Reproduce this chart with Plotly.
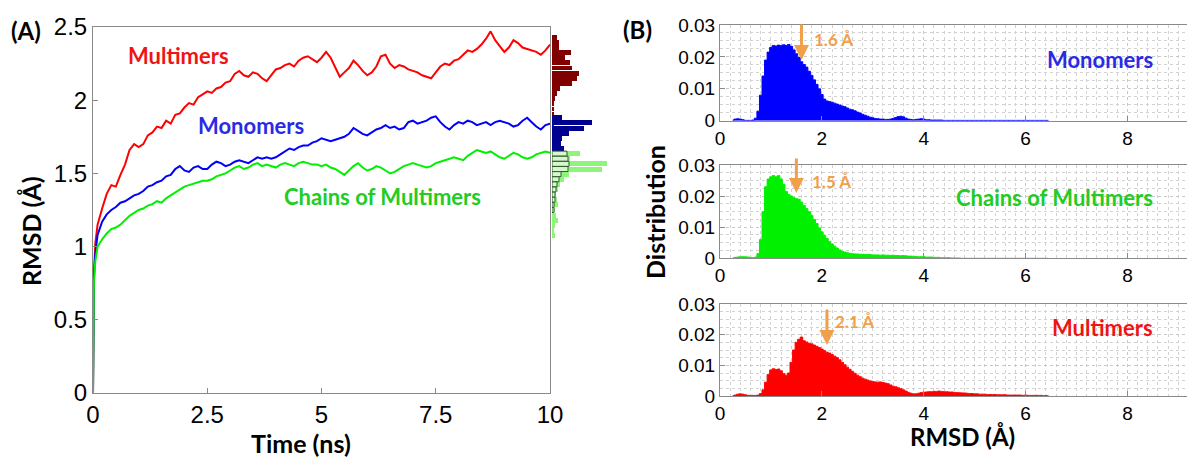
import plotly.graph_objects as go

W, H = 1187, 460

# ---------------- Panel A: RMSD time series ----------------
time_ns = [0.0, 0.02, 0.05] + [round(0.1 * i, 1) for i in range(1, 101)]

rmsd_multimers = [0.0, 0.80, 1.02,
    1.15, 1.26, 1.36, 1.42, 1.41, 1.49, 1.56, 1.66, 1.70, 1.68,
    1.70, 1.76, 1.78, 1.82, 1.81, 1.86, 1.84, 1.90, 1.91, 1.95,
    1.98, 1.97, 2.02, 2.04, 2.06, 2.05, 2.08, 2.09, 2.12, 2.13,
    2.18, 2.20, 2.17, 2.16, 2.19, 2.18, 2.15, 2.13, 2.17, 2.21,
    2.22, 2.24, 2.25, 2.23, 2.27, 2.29, 2.30, 2.28, 2.26, 2.29,
    2.33, 2.29, 2.22, 2.16, 2.19, 2.22, 2.27, 2.24, 2.20, 2.17,
    2.19, 2.23, 2.30, 2.31, 2.25, 2.22, 2.24, 2.23, 2.21, 2.20,
    2.19, 2.17, 2.16, 2.15, 2.19, 2.23, 2.25, 2.24, 2.27, 2.28,
    2.31, 2.34, 2.33, 2.35, 2.38, 2.42, 2.47, 2.41, 2.37, 2.33,
    2.36, 2.41, 2.39, 2.36, 2.35, 2.34, 2.33, 2.31, 2.34, 2.38]

rmsd_monomers = [0.0, 0.78, 0.95,
    1.08, 1.17, 1.22, 1.25, 1.27, 1.30, 1.31, 1.33, 1.35, 1.36,
    1.38, 1.41, 1.42, 1.44, 1.45, 1.48, 1.49, 1.53, 1.55, 1.52,
    1.51, 1.54, 1.55, 1.53, 1.53, 1.56, 1.58, 1.57, 1.55, 1.56,
    1.58, 1.59, 1.58, 1.57, 1.59, 1.61, 1.60, 1.61, 1.60, 1.61,
    1.63, 1.65, 1.67, 1.66, 1.68, 1.69, 1.69, 1.71, 1.72, 1.74,
    1.73, 1.72, 1.73, 1.74, 1.75, 1.77, 1.81, 1.79, 1.77, 1.76,
    1.78, 1.80, 1.81, 1.83, 1.81, 1.82, 1.80, 1.81, 1.85, 1.86,
    1.84, 1.85, 1.86, 1.88, 1.89, 1.85, 1.82, 1.80, 1.83, 1.85,
    1.84, 1.86, 1.85, 1.83, 1.84, 1.85, 1.83, 1.85, 1.86, 1.85,
    1.84, 1.82, 1.83, 1.86, 1.88, 1.85, 1.82, 1.80, 1.83, 1.84]

rmsd_chains = [0.0, 0.75, 0.90,
    1.00, 1.05, 1.09, 1.12, 1.13, 1.15, 1.18, 1.21, 1.23, 1.25,
    1.26, 1.28, 1.29, 1.31, 1.30, 1.33, 1.35, 1.37, 1.39, 1.41,
    1.42, 1.43, 1.44, 1.45, 1.45, 1.46, 1.48, 1.49, 1.50, 1.52,
    1.54, 1.55, 1.53, 1.54, 1.56, 1.57, 1.55, 1.56, 1.55, 1.54,
    1.56, 1.57, 1.56, 1.55, 1.57, 1.58, 1.57, 1.56, 1.56, 1.55,
    1.56, 1.54, 1.53, 1.51, 1.49, 1.52, 1.55, 1.57, 1.54, 1.52,
    1.53, 1.55, 1.54, 1.52, 1.50, 1.51, 1.53, 1.55, 1.56, 1.57,
    1.56, 1.55, 1.54, 1.55, 1.57, 1.58, 1.59, 1.60, 1.61, 1.60,
    1.59, 1.62, 1.64, 1.66, 1.65, 1.64, 1.65, 1.63, 1.61, 1.60,
    1.62, 1.64, 1.63, 1.61, 1.60, 1.61, 1.63, 1.64, 1.65, 1.64]

# side histograms (bin centre in Å, bar length in arbitrary counts)
hist_mult_y = [2.43, 2.395, 2.36, 2.325, 2.29, 2.255, 2.22, 2.185, 2.15, 2.115, 2.08,
               2.045, 2.01, 1.975, 1.94, 1.905, 1.87, 1.835, 1.80, 1.765, 1.73, 1.695]
hist_mult_n = [5, 7, 7, 19, 13, 18, 20, 27, 25, 20, 8, 5, 3, 2, 2, 1.5, 1.5, 2, 3, 2, 3, 2]

hist_mono_y = [1.88, 1.845, 1.81, 1.775, 1.74, 1.705, 1.67]
hist_mono_n = [10, 40, 32, 17, 10, 9, 12]

hist_chain_y = [1.635, 1.60, 1.565, 1.53, 1.495, 1.46, 1.425, 1.39, 1.355, 1.32,
                1.285, 1.25, 1.215, 1.18, 1.145, 1.11, 1.075]
hist_chain_n = [28, 18, 55, 50, 17, 12, 8, 6, 4, 5, 6, 3, 4, 6, 3, 2, 3]

hist_chain2_y = [1.635, 1.60, 1.565, 1.53, 1.495, 1.46, 1.425, 1.39, 1.355, 1.32, 1.285, 1.25]
hist_chain2_n = [15, 16, 17, 16, 9, 7, 5, 4, 3, 3, 2, 2]

# ---------------- Panel B: RMSD distributions ----------------
rmsd_bins = [round(0.25 + 0.05 * i, 2) for i in range(125)]   # 0.25 .. 6.45

dist_monomers = [
    0.0002, 0.0005, 0.0006, 0.0005, 0.0003, 0.0001, 0.0001, 0.0001, 0.0002, 0.0008,
    0.0030, 0.0080, 0.0140, 0.0190, 0.0215, 0.0230, 0.0236, 0.0234, 0.0237, 0.0235,
    0.0238, 0.0236, 0.0239, 0.0233, 0.0222, 0.0210, 0.0198, 0.0185, 0.0176, 0.0168,
    0.0155, 0.0142, 0.0128, 0.0114, 0.0100, 0.0082, 0.0068, 0.0062, 0.0060, 0.0058,
    0.0055, 0.0052, 0.0049, 0.0046, 0.0044, 0.0040, 0.0036, 0.0034, 0.0031, 0.0027,
    0.0024, 0.0020, 0.0017, 0.0014, 0.0011, 0.0009, 0.0007, 0.0006, 0.0005, 0.0005,
    0.0004, 0.0004, 0.0005, 0.0007, 0.0010, 0.0013, 0.0014, 0.0012, 0.0008, 0.0005,
    0.0004, 0.0003, 0.0004, 0.0005, 0.0006, 0.0005, 0.0003, 0.0003, 0.0002, 0.0002,
    0.0002, 0.0002, 0.0002, 0.0001, 0.0001, 0.0001, 0.0001, 0.0001, 0.0001, 0.0001,
    0.0001, 0.0001, 0.0001, 0.0001, 0.0001, 0.0001, 0.0001, 0.0001, 0.0001, 0.0001,
    0.0001, 0.0001, 0.0001, 0.0001, 0.0001, 0.0001, 0.0001, 0.0001, 0.0001, 0.0001,
    0.0001, 0.0001, 0.0001, 0.0001, 0.0001, 0.0001, 0.0001, 0.0001, 0.0001, 0.0001,
    0.0001, 0.0001, 0.0001, 0.0001, 0.0001]

dist_chains = [
    0.0001, 0.0003, 0.0004, 0.0005, 0.0005, 0.0005, 0.0004, 0.0003, 0.0002, 0.0004,
    0.0015, 0.0060, 0.0150, 0.0230, 0.0255, 0.0262, 0.0266, 0.0262, 0.0266, 0.0255,
    0.0238, 0.0215, 0.0205, 0.0200, 0.0195, 0.0192, 0.0190, 0.0180, 0.0170, 0.0160,
    0.0150, 0.0138, 0.0125, 0.0112, 0.0098, 0.0085, 0.0074, 0.0064, 0.0054, 0.0046,
    0.0039, 0.0033, 0.0027, 0.0023, 0.0020, 0.0018, 0.0016, 0.0015, 0.0014, 0.0014,
    0.0013, 0.0013, 0.0012, 0.0012, 0.0012, 0.0011, 0.0011, 0.0011, 0.0010, 0.0011,
    0.0010, 0.0010, 0.0009, 0.0010, 0.0009, 0.0009, 0.0008, 0.0009, 0.0008, 0.0007,
    0.0007, 0.0006, 0.0006, 0.0005, 0.0005, 0.0005, 0.0004, 0.0004, 0.0004, 0.0003,
    0.0003, 0.0003, 0.0002, 0.0002, 0.0002, 0.0002, 0.0001, 0.0001, 0.0001, 0.0001,
    0.0, 0.0, 0.0, 0.0, 0.0, 0.0, 0.0, 0.0, 0.0, 0.0,
    0.0, 0.0, 0.0, 0.0, 0.0, 0.0, 0.0, 0.0, 0.0, 0.0,
    0.0, 0.0, 0.0, 0.0, 0.0, 0.0, 0.0, 0.0, 0.0, 0.0,
    0.0, 0.0, 0.0, 0.0, 0.0]

dist_multimers = [
    0.0001, 0.0003, 0.0006, 0.0007, 0.0006, 0.0004, 0.0002, 0.0002, 0.0002, 0.0002,
    0.0003, 0.0008, 0.0020, 0.0045, 0.0070, 0.0085, 0.0089, 0.0086, 0.0088, 0.0082,
    0.0073, 0.0068, 0.0075, 0.0110, 0.0150, 0.0175, 0.0185, 0.0192, 0.0180, 0.0176,
    0.0172, 0.0170, 0.0166, 0.0162, 0.0158, 0.0153, 0.0148, 0.0143, 0.0140, 0.0135,
    0.0130, 0.0125, 0.0118, 0.0110, 0.0102, 0.0094, 0.0087, 0.0080, 0.0074, 0.0068,
    0.0063, 0.0058, 0.0055, 0.0052, 0.0049, 0.0047, 0.0046, 0.0045, 0.0046, 0.0044,
    0.0042, 0.0040, 0.0036, 0.0032, 0.0030, 0.0027, 0.0024, 0.0020, 0.0016, 0.0012,
    0.0009, 0.0007, 0.0007, 0.0009, 0.0011, 0.0012, 0.0013, 0.0014, 0.0014, 0.0015,
    0.0015, 0.0016, 0.0015, 0.0014, 0.0014, 0.0013, 0.0013, 0.0012, 0.0011, 0.0011,
    0.0010, 0.0010, 0.0009, 0.0008, 0.0008, 0.0007, 0.0007, 0.0006, 0.0006, 0.0006,
    0.0005, 0.0005, 0.0005, 0.0005, 0.0004, 0.0004, 0.0004, 0.0004, 0.0003, 0.0003,
    0.0003, 0.0003, 0.0003, 0.0003, 0.0002, 0.0003, 0.0002, 0.0002, 0.0002, 0.0002,
    0.0002, 0.0002, 0.0001, 0.0001, 0.0001]

peak_labels = ["1.6 Å", "1.5 Å", "2.1 Å"]
peak_x = [1.6, 1.5, 2.1]
peak_tip = [0.0190, 0.0210, 0.0166]
panel_names = ["Monomers", "Chains of Multimers", "Multimers"]

# ---------------- styling ----------------
RED, BLUE, GREEN = "#FF0000", "#0000FF", "#00F000"
TXT_RED, TXT_BLUE, TXT_GREEN = "#EE1515", "#2A2AE6", "#22CC22"
ORANGE = "#F0A04B"
TICKFONT = dict(family="Liberation Sans, Arial", size=24, color="black")
TICKFONT_B = dict(family="Liberation Sans, Arial", size=19, color="black")
BOLD = "Lato, Calibri, sans-serif"

fig = go.Figure()

# time series
for yv, col in [(rmsd_multimers, RED), (rmsd_monomers, BLUE), (rmsd_chains, GREEN)]:
    fig.add_trace(go.Scatter(x=time_ns, y=yv, mode="lines", line=dict(color=col, width=2),
                             xaxis="x", yaxis="y", showlegend=False))

# side histograms
fig.add_trace(go.Bar(x=hist_mult_n, y=hist_mult_y, orientation="h", width=0.034,
                     marker=dict(color="#800000", line=dict(width=0)), xaxis="x2", yaxis="y", showlegend=False))
fig.add_trace(go.Bar(x=hist_mono_n, y=hist_mono_y, orientation="h", width=0.034,
                     marker=dict(color="#000090", line=dict(width=0)), xaxis="x2", yaxis="y", showlegend=False))
fig.add_trace(go.Bar(x=hist_chain_n, y=hist_chain_y, orientation="h", width=0.034,
                     marker=dict(color="#8CF57A", line=dict(width=0)), xaxis="x2", yaxis="y", showlegend=False))
fig.add_trace(go.Bar(x=hist_chain2_n, y=hist_chain2_y, orientation="h", width=0.034,
                     marker=dict(color="#D9F7CF", line=dict(width=1, color="#2F5E2F")),
                     xaxis="x2", yaxis="y", showlegend=False))

# distributions
for i, (dv, col) in enumerate([(dist_monomers, BLUE), (dist_chains, GREEN), (dist_multimers, RED)]):
    ax = str(i + 3)
    fig.add_trace(go.Scatter(x=rmsd_bins, y=dv, mode="lines", line=dict(color=col, width=1, shape="hvh"),
                             fill="tozeroy", fillcolor=col, xaxis="x" + ax, yaxis="y" + ax, showlegend=False))

def px(x):
    return x / W

def py(y):
    return 1 - y / H

axis_common = dict(showline=True, mirror=True, linecolor="#8a8a8a", linewidth=1, ticks="inside",
                   ticklen=5, tickcolor="#8a8a8a", zeroline=False, showgrid=False, automargin=False)

layout = dict(
    width=W, height=H, margin=dict(l=0, r=0, t=0, b=0, autoexpand=False),
    paper_bgcolor="white", plot_bgcolor="white", barmode="overlay", bargap=0,
    xaxis=dict(domain=[px(93), px(550)], range=[0, 10], tickvals=[0, 2.5, 5, 7.5, 10],
               tickfont=TICKFONT, anchor="y", **axis_common),
    yaxis=dict(domain=[py(393), py(27)], range=[0, 2.5], dtick=0.5, tickfont=TICKFONT,
               anchor="x", **axis_common),
    xaxis2=dict(domain=[px(552), px(620)], range=[0, 68], anchor="y", visible=False, automargin=False),
)

b_domains = [(25, 120.7), (165, 258.3), (304, 396)]
for i, (top, bot) in enumerate(b_domains):
    ax = str(i + 3)
    common_b = dict(axis_common)
    common_b["showgrid"] = True
    common_b["gridcolor"] = "#c8c8c8"
    common_b["griddash"] = "dot"
    common_b["gridwidth"] = 1
    layout["xaxis" + ax] = dict(domain=[px(720), 1.0], range=[0, 9.17], dtick=2, tickfont=TICKFONT_B,
                                anchor="y" + ax,
                                minor=dict(dtick=0.2, showgrid=True, gridcolor="#d2d2d2", griddash="dot",
                                           ticks=""), **common_b)
    layout["yaxis" + ax] = dict(domain=[py(bot), py(top)], range=[0, 0.03], dtick=0.01,
                                tickfont=TICKFONT_B, anchor="x" + ax,
                                minor=dict(dtick=0.0025, showgrid=True, gridcolor="#d2d2d2", griddash="dot",
                                           ticks=""), **common_b)

fig.update_layout(**layout)

ann = []
def txt(x, y, s, size, color="black", xanchor="center", angle=0):
    ann.append(dict(x=px(x), y=py(y), xref="paper", yref="paper", text=s, showarrow=False,
                    xanchor=xanchor, yanchor="middle", textangle=angle,
                    font=dict(family=BOLD, size=size, color=color, weight="bold")))

txt(26, 31, "(A)", 24)
txt(637, 30, "(B)", 24)
txt(31, 231, "RMSD (Å)", 25, angle=-90)
txt(301, 443, "Time (ns)", 25)
txt(178, 56, "Multimers", 22, TXT_RED)
txt(251, 126, "Monomers", 22, TXT_BLUE)
txt(382, 196, "Chains of Multimers", 22, TXT_GREEN)
txt(655, 212, "Distribution", 25, angle=-90)
txt(962, 436, "RMSD (Å)", 24)
for yc, name, col in [(59, panel_names[0], TXT_BLUE), (197, panel_names[1], TXT_GREEN), (327, panel_names[2], TXT_RED)]:
    txt(1155, yc, name, 22, col, xanchor="right")

label_pos = [(833, 40), (831, 181), (854, 321)]
arrow_len = [37, 36, 37]
for i in range(3):
    ax = str(i + 3)
    ann.append(dict(x=peak_x[i], y=peak_tip[i], xref="x" + ax, yref="y" + ax, text="",
                    showarrow=True, ax=0, ay=-arrow_len[i], arrowhead=2, arrowsize=1,
                    arrowwidth=3, arrowcolor=ORANGE, axref="pixel", ayref="pixel"))
    txt(label_pos[i][0], label_pos[i][1], peak_labels[i], 17, ORANGE)

fig.update_layout(annotations=ann)
fig.write_html("out.html", config={"displayModeBar": False, "staticPlot": True},
               post_script="document.body.style.margin='0';document.body.style.overflow='hidden';"
                           "document.documentElement.style.overflow='hidden';")
